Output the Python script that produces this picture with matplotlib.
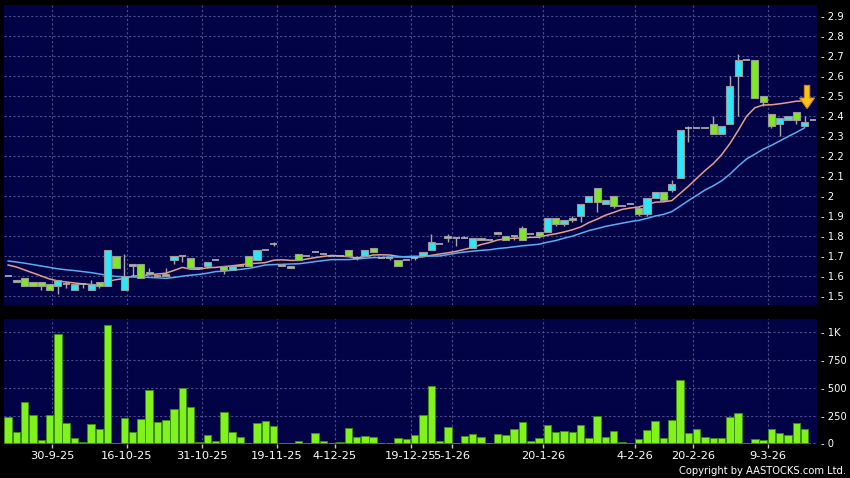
import numpy as np
import matplotlib
matplotlib.use('Agg')
import matplotlib.pyplot as plt
from matplotlib.patches import Polygon

# daily OHLC (97 sessions)
opens = [1.60, 1.58, 1.59, 1.57, 1.57, 1.56, 1.55, 1.56, 1.53, 1.56,
         1.53, 1.57, 1.55, 1.70, 1.53, 1.65, 1.66, 1.62, 1.60, 1.61,
         1.68, 1.70, 1.69, 1.64, 1.65, 1.68, 1.65, 1.63, 1.65, 1.70,
         1.68, 1.73, 1.76, 1.65, 1.65, 1.71, 1.70, 1.72, 1.71, 1.70,
         1.70, 1.73, 1.69, 1.70, 1.74, 1.69, 1.69, 1.68, 1.68, 1.69,
         1.70, 1.73, 1.76, 1.80, 1.79, 1.79, 1.74, 1.78, 1.78, 1.81,
         1.80, 1.80, 1.84, 1.81, 1.82, 1.82, 1.89, 1.86, 1.88, 1.90,
         1.97, 2.04, 1.96, 2.00, 1.95, 1.96, 1.94, 1.91, 1.99, 2.02,
         2.03, 2.09, 2.34, 2.34, 2.34, 2.36, 2.31, 2.36, 2.60, 2.68,
         2.68, 2.50, 2.41, 2.36, 2.38, 2.42, 2.35]
highs = [1.60, 1.58, 1.59, 1.57, 1.57, 1.56, 1.58, 1.57, 1.56, 1.56,
         1.58, 1.57, 1.73, 1.70, 1.71, 1.66, 1.66, 1.64, 1.60, 1.64,
         1.70, 1.70, 1.69, 1.64, 1.67, 1.68, 1.65, 1.65, 1.65, 1.70,
         1.73, 1.73, 1.77, 1.66, 1.65, 1.71, 1.70, 1.72, 1.71, 1.70,
         1.70, 1.73, 1.70, 1.73, 1.74, 1.69, 1.69, 1.68, 1.68, 1.70,
         1.72, 1.81, 1.76, 1.81, 1.79, 1.80, 1.79, 1.79, 1.78, 1.82,
         1.80, 1.80, 1.85, 1.81, 1.82, 1.89, 1.89, 1.88, 1.90, 1.96,
         2.00, 2.04, 1.98, 2.00, 1.95, 1.96, 1.95, 1.99, 2.02, 2.02,
         2.08, 2.33, 2.35, 2.34, 2.34, 2.40, 2.35, 2.60, 2.71, 2.68,
         2.68, 2.50, 2.41, 2.39, 2.40, 2.42, 2.40]
lows = [1.60, 1.57, 1.55, 1.55, 1.53, 1.53, 1.51, 1.54, 1.53, 1.54,
        1.53, 1.54, 1.55, 1.64, 1.53, 1.60, 1.59, 1.61, 1.60, 1.60,
        1.66, 1.67, 1.64, 1.64, 1.64, 1.68, 1.61, 1.63, 1.65, 1.65,
        1.68, 1.73, 1.75, 1.65, 1.64, 1.68, 1.70, 1.72, 1.71, 1.70,
        1.70, 1.70, 1.68, 1.70, 1.72, 1.69, 1.68, 1.65, 1.68, 1.68,
        1.70, 1.73, 1.76, 1.77, 1.75, 1.79, 1.74, 1.78, 1.78, 1.81,
        1.78, 1.78, 1.78, 1.81, 1.79, 1.82, 1.85, 1.85, 1.87, 1.87,
        1.97, 1.92, 1.96, 1.94, 1.95, 1.96, 1.90, 1.90, 1.99, 1.98,
        2.02, 2.09, 2.27, 2.34, 2.34, 2.31, 2.31, 2.36, 2.40, 2.68,
        2.49, 2.45, 2.34, 2.30, 2.38, 2.36, 2.35]
closes = [1.60, 1.57, 1.55, 1.55, 1.55, 1.53, 1.58, 1.56, 1.56, 1.56,
          1.56, 1.55, 1.73, 1.64, 1.60, 1.66, 1.59, 1.61, 1.60, 1.60,
          1.70, 1.70, 1.64, 1.64, 1.67, 1.68, 1.63, 1.65, 1.65, 1.65,
          1.73, 1.73, 1.76, 1.66, 1.64, 1.68, 1.70, 1.72, 1.71, 1.70,
          1.70, 1.70, 1.69, 1.73, 1.72, 1.69, 1.69, 1.65, 1.68, 1.69,
          1.72, 1.77, 1.76, 1.79, 1.79, 1.79, 1.79, 1.79, 1.78, 1.82,
          1.78, 1.80, 1.78, 1.81, 1.80, 1.89, 1.86, 1.88, 1.89, 1.96,
          2.00, 1.97, 1.98, 1.95, 1.95, 1.96, 1.91, 1.99, 2.02, 1.98,
          2.06, 2.33, 2.34, 2.34, 2.34, 2.31, 2.35, 2.55, 2.68, 2.68,
          2.49, 2.47, 2.35, 2.39, 2.40, 2.38, 2.37]

# volume in thousands
volume = [240, 99, 369, 258, 27, 252, 981, 183, 45, 9,
          174, 129, 1062, 6, 231, 102, 216, 480, 189, 210,
          309, 498, 327, 9, 72, 21, 279, 102, 57, 6,
          186, 198, 153, 3, 6, 18, 3, 96, 18, 2,
          9, 135, 54, 63, 54, 0, 3, 45, 39, 75,
          252, 516, 18, 144, 3, 69, 81, 60, 3, 81,
          78, 132, 192, 21, 45, 162, 105, 114, 102, 168,
          48, 249, 54, 111, 12, 3, 42, 120, 201, 45,
          213, 567, 96, 126, 57, 45, 51, 240, 270, 0,
          36, 30, 129, 96, 78, 183, 132]

# moving averages as drawn on the chart (10 and 20 day)
ma10 = [1.655, 1.645, 1.630, 1.615, 1.600, 1.585, 1.575, 1.570, 1.565,
        1.561, 1.557, 1.555, 1.573, 1.582, 1.587, 1.600, 1.601, 1.606, 1.610,
        1.614, 1.628, 1.643, 1.634, 1.634, 1.641, 1.643, 1.647, 1.651, 1.656,
        1.661, 1.664, 1.667, 1.679, 1.681, 1.678, 1.678, 1.685, 1.692, 1.698,
        1.703, 1.700, 1.697, 1.690, 1.697, 1.705, 1.706, 1.705, 1.698, 1.695,
        1.694, 1.696, 1.703, 1.710, 1.716, 1.723, 1.733, 1.743, 1.757, 1.767,
        1.780, 1.786, 1.789, 1.791, 1.793, 1.794, 1.804, 1.811, 1.820, 1.831,
        1.845, 1.867, 1.884, 1.904, 1.918, 1.933, 1.940, 1.945, 1.956, 1.969,
        1.971, 1.977, 2.013, 2.049, 2.088, 2.127, 2.162, 2.206, 2.262, 2.328,
        2.398, 2.441, 2.455, 2.456, 2.461, 2.467, 2.474, 2.476]
ma20 = [1.675, 1.670, 1.664, 1.657, 1.650, 1.643, 1.636, 1.631, 1.627, 1.622,
        1.617, 1.610, 1.603, 1.598, 1.596, 1.595, 1.594, 1.593, 1.591,
        1.588, 1.593, 1.599, 1.604, 1.608, 1.614, 1.622, 1.624, 1.629, 1.633,
        1.638, 1.646, 1.655, 1.657, 1.658, 1.660, 1.661, 1.666, 1.672, 1.677,
        1.682, 1.682, 1.682, 1.685, 1.689, 1.692, 1.692, 1.695, 1.695, 1.697,
        1.699, 1.698, 1.700, 1.700, 1.707, 1.714, 1.720, 1.724, 1.728, 1.731,
        1.737, 1.741, 1.746, 1.751, 1.755, 1.759, 1.769, 1.777, 1.789, 1.799,
        1.813, 1.827, 1.837, 1.848, 1.856, 1.864, 1.872, 1.878, 1.888, 1.900,
        1.908, 1.922, 1.949, 1.977, 2.003, 2.030, 2.051, 2.076, 2.109, 2.149,
        2.185, 2.209, 2.234, 2.253, 2.275, 2.297, 2.318, 2.341]

date_labels = ['30-9-25', '16-10-25', '31-10-25', '19-11-25', '4-12-25', '19-12-25',
               '5-1-26', '20-1-26', '4-2-26', '20-2-26', '9-3-26']
date_pos = [5.3, 14.3, 23.4, 32.4, 39.4, 48.5, 53.5, 64.5, 75.6, 82.6, 91.6]

last_price = 2.38
price_ticks = [1.5, 1.6, 1.7, 1.8, 1.9, 2.0, 2.1, 2.2, 2.3, 2.4, 2.5, 2.6, 2.7, 2.8, 2.9]
vol_ticks = [0, 250, 500, 750, 1000]
vol_labels = ['0', '250', '500', '750', '1K']

BG = '#020247'
GRID = '#4c4c8a'
UP = '#2ee6f6'
DOWN = '#80e820'
EDGE = '#9a9a9a'

o = np.array(opens); c = np.array(closes)
h = np.array(highs); l = np.array(lows)
x = np.arange(len(c))

fig = plt.figure(figsize=(8.5, 4.78), dpi=100)
fig.patch.set_facecolor('black')
ax = fig.add_axes([4/850, 1 - 305/478, 813/850, 300/478])
axv = fig.add_axes([4/850, 1 - 444/478, 813/850, 125/478])

for a in (ax, axv):
    a.set_facecolor(BG)
    for s in a.spines.values():
        s.set_visible(False)
    a.set_xlim(-0.5, 97.5)
    a.set_axisbelow(True)
    a.grid(True, color=GRID, linestyle=(0, (2, 2)), linewidth=0.8)
    a.yaxis.tick_right()

# price panel
ax.set_ylim(1.455, 2.955)
ax.vlines(x, l, h, color='#a8a8a8', linewidth=1, zorder=2)
ax.plot(x, ma10, color='#e6a086', linewidth=1.1, zorder=2.5)
ax.plot(x, ma20, color='#58aef0', linewidth=1.1, zorder=2.5)

up = c > o
down = c < o
flat = c == o
ax.bar(x[up], (c - o)[up], bottom=o[up], width=0.86, color=UP,
       edgecolor=EDGE, linewidth=0.8, zorder=3)
ax.bar(x[down], (o - c)[down], bottom=c[down], width=0.86, color=DOWN,
       edgecolor=EDGE, linewidth=0.8, zorder=3)
ax.hlines(c[flat], x[flat] - 0.43, x[flat] + 0.43, color='#b4b4b4',
          linewidth=1.2, zorder=3)
ax.hlines(last_price, len(c) - 0.4, len(c) + 0.4, color='#b4b4b4', linewidth=1.2, zorder=3)

# yellow arrow over last bar
ax_x = len(c) - 0.7
arrow = Polygon([[ax_x - 0.32, 2.553], [ax_x + 0.32, 2.553], [ax_x + 0.32, 2.49],
                 [ax_x + 0.9, 2.49], [ax_x, 2.437], [ax_x - 0.9, 2.49],
                 [ax_x - 0.32, 2.49]], closed=True, facecolor='#f8c41c',
                edgecolor='#d88a00', linewidth=0.8, zorder=5)
ax.add_patch(arrow)

ax.set_yticks(price_ticks)
ax.set_yticklabels(['- %g' % v for v in price_ticks])
ax.tick_params(axis='y', length=0, pad=3, labelsize=7.2, labelcolor='white')
ax.set_xticks(date_pos)
ax.tick_params(axis='x', length=0, labelbottom=False)

# volume panel
axv.set_ylim(-6, 1120)
axv.bar(x, volume, width=0.9, color='#80f21e', edgecolor='#3f8a12', linewidth=0.7, zorder=3)
axv.set_yticks(vol_ticks)
axv.set_yticklabels(['- ' + s for s in vol_labels])
axv.tick_params(axis='y', length=0, pad=3, labelsize=7.2, labelcolor='white')
axv.set_xticks(date_pos)
axv.set_xticklabels(date_labels)
axv.tick_params(axis='x', length=3, width=1, color='#c8c8c8', direction='out',
                pad=2, labelsize=8.2, labelcolor='white')

fig.text(846/850, 1 - 471/478, 'Copyright by AASTOCKS.com Ltd.', ha='right',
         va='center', color='white', fontsize=7.2)

fig.savefig('out.png', dpi=100, facecolor='black')
